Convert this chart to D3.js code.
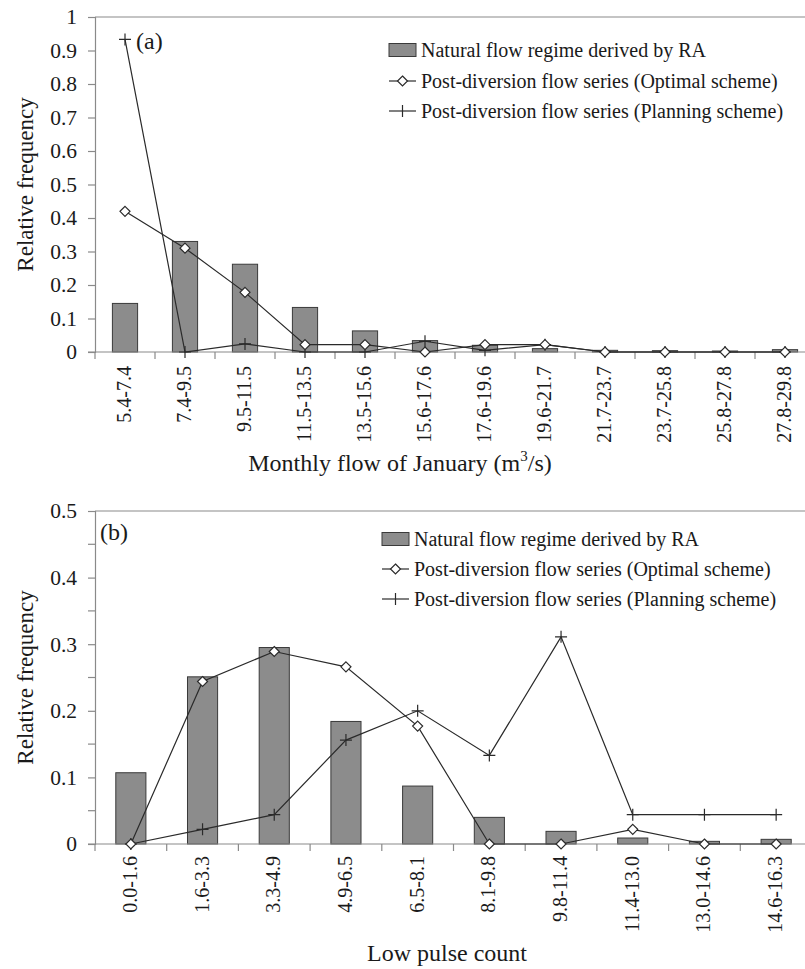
<!DOCTYPE html>
<html>
<head>
<meta charset="utf-8">
<script src="https://cdn.jsdelivr.net/npm/d3@7"></script>
<style>
  html, body { margin: 0; padding: 0; background: #fff; }
  svg { display: block; }
</style>
</head>
<body>
<svg id="chart" width="805" height="969"></svg>
<script>
/* Two stacked histograms: natural flow regime (bars) vs two post-diversion
   series (diamond line, plus line). Excel-style, serif type. */

// ---- panel (a): monthly flow of January
const catsA = ['5.4-7.4', '7.4-9.5', '9.5-11.5', '11.5-13.5', '13.5-15.6', '15.6-17.6',
  '17.6-19.6', '19.6-21.7', '21.7-23.7', '23.7-25.8', '25.8-27.8', '27.8-29.8'];
const naturalA  = [0.145, 0.33, 0.262, 0.133, 0.063, 0.034, 0.02, 0.01, 0.005, 0.004, 0.003, 0.007];
const optimalA  = [0.42, 0.31, 0.178, 0.022, 0.022, 0, 0.022, 0.022, 0, 0, 0, 0];
const planningA = [0.933, 0, 0.024, 0, 0, 0.032, 0.005, 0.022, 0, 0, 0, 0];
const yTicksA = [0, 0.1, 0.2, 0.3, 0.4, 0.5, 0.6, 0.7, 0.8, 0.9, 1];

// ---- panel (b): low pulse count
const catsB = ['0.0-1.6', '1.6-3.3', '3.3-4.9', '4.9-6.5', '6.5-8.1', '8.1-9.8',
  '9.8-11.4', '11.4-13.0', '13.0-14.6', '14.6-16.3'];
const naturalB  = [0.107, 0.251, 0.295, 0.184, 0.087, 0.04, 0.019, 0.009, 0.004, 0.007];
const optimalB  = [0, 0.244, 0.289, 0.266, 0.177, 0, 0, 0.022, 0, 0];
const planningB = [0, 0.022, 0.044, 0.156, 0.2, 0.133, 0.311, 0.044, 0.044, 0.044];
const yTicksB = [0, 0.1, 0.2, 0.3, 0.4, 0.5];
const yMinorB = [0.05, 0.15, 0.25, 0.35, 0.45];

const legendLabels = ['Natural flow regime derived by RA',
  'Post-diversion flow series (Optimal scheme)',
  'Post-diversion flow series (Planning scheme)'];

const svg = d3.select('#chart');
const serif = '"Liberation Serif", "Times New Roman", serif';
const ink = '#1a1a1a', axisCol = '#8a8a8a', lineCol = '#2a2a2a', barFill = '#8c8c8c';

function panel(o) {
  const g = svg.append('g');
  const x = d3.scaleBand().domain(o.cats).range([o.left, o.right]).paddingInner(0);
  const y = d3.scaleLinear().domain(o.yDomain).range([o.bottom, o.top]);
  const cx = d => x(d) + x.bandwidth() / 2;
  const bw = x.bandwidth() * 0.42;

  // top frame line
  g.append('line')
    .attr('x1', o.left).attr('x2', 805).attr('y1', o.top).attr('y2', o.top)
    .attr('stroke', axisCol).attr('stroke-width', 1.2);

  // bars
  g.selectAll('rect.bar').data(o.cats).join('rect')
    .attr('x', (d) => cx(d) - bw / 2)
    .attr('y', (d, i) => y(o.natural[i]))
    .attr('width', bw)
    .attr('height', (d, i) => y(0) - y(o.natural[i]))
    .attr('fill', barFill).attr('stroke', '#3a3a3a').attr('stroke-width', 1);

  // y axis
  const yAx = g.append('g').attr('transform', `translate(${o.left},0)`)
    .call(d3.axisLeft(y).tickValues(o.yTicks).tickSize(7).tickPadding(11)
      .tickFormat(d => d === 0 ? '0' : d === 1 ? '1' : d3.format('.1f')(d)));
  if (o.yMinor) {
    yAx.selectAll('line.minor').data(o.yMinor).join('line').attr('class', 'minor')
      .attr('x1', -7).attr('x2', 0).attr('y1', d => y(d)).attr('y2', d => y(d));
  }
  yAx.selectAll('text').attr('font-size', 21.5);

  // x axis with ticks on category boundaries
  const xAx = g.append('g').attr('transform', `translate(0,${y(0)})`);
  xAx.append('line').attr('x1', o.left - 7).attr('x2', 805).attr('y1', 0).attr('y2', 0);
  xAx.selectAll('line.tk').data(o.cats).join('line').attr('class', 'tk')
    .attr('x1', d => x(d)).attr('x2', d => x(d)).attr('y1', 0).attr('y2', 7);
  xAx.selectAll('text').data(o.cats).join('text')
    .attr('transform', d => `translate(${cx(d) + 6},${o.labelGap}) rotate(-90)`)
    .attr('text-anchor', 'end').attr('font-size', 20).text(d => d);

  [yAx, xAx].forEach(a => {
    a.selectAll('path.domain').attr('stroke', axisCol).attr('stroke-width', 1.2);
    a.selectAll('line').attr('stroke', axisCol).attr('stroke-width', 1.2);
    a.selectAll('text').attr('font-family', serif).attr('fill', ink);
  });

  // series lines
  const line = d3.line().x((d, i) => cx(o.cats[i])).y(d => y(d));
  [o.optimal, o.planning].forEach(s => {
    g.append('path').attr('d', line(s)).attr('fill', 'none')
      .attr('stroke', lineCol).attr('stroke-width', 1.2);
  });

  // plus markers
  g.selectAll('path.plus').data(o.planning).join('path')
    .attr('d', (d, i) => { const px = cx(o.cats[i]), py = y(d);
      return `M${px - 6},${py}H${px + 6}M${px},${py - 6}V${py + 6}`; })
    .attr('stroke', lineCol).attr('stroke-width', 1.2);

  // diamond markers
  g.selectAll('path.dia').data(o.optimal).join('path')
    .attr('d', (d, i) => { const px = cx(o.cats[i]), py = y(d);
      return `M${px},${py - 5}L${px + 5},${py}L${px},${py + 5}L${px - 5},${py}Z`; })
    .attr('fill', '#fff').attr('stroke', lineCol).attr('stroke-width', 1.2);

  // panel tag
  g.append('text').attr('x', o.tag[0]).attr('y', o.tag[1])
    .attr('font-family', serif).attr('font-size', 24).attr('fill', ink).text(o.tagText);

  // legend
  const L = o.legend;
  const lg = g.append('g');
  lg.append('rect').attr('x', L.x).attr('y', L.rows[0] - 6.5).attr('width', 27).attr('height', 13)
    .attr('fill', barFill).attr('stroke', '#3a3a3a').attr('stroke-width', 1);
  [1, 2].forEach(k => {
    const yy = L.rows[k], mx = L.x + 13.5;
    lg.append('line').attr('x1', L.x).attr('x2', L.x + 27).attr('y1', yy).attr('y2', yy)
      .attr('stroke', lineCol).attr('stroke-width', 1.2);
    if (k === 1) {
      lg.append('path').attr('d', `M${mx},${yy - 5}L${mx + 5},${yy}L${mx},${yy + 5}L${mx - 5},${yy}Z`)
        .attr('fill', '#fff').attr('stroke', lineCol).attr('stroke-width', 1.2);
    } else {
      lg.append('path').attr('d', `M${mx},${yy - 6}V${yy + 6}`)
        .attr('stroke', lineCol).attr('stroke-width', 1.2);
    }
  });
  lg.selectAll('text').data(legendLabels).join('text')
    .attr('x', L.x + 32).attr('y', (d, i) => L.rows[i] + 6.5)
    .attr('font-family', serif).attr('font-size', 20).attr('fill', ink).text(d => d);

  // axis titles
  g.append('text')
    .attr('transform', `translate(${o.yTitleX},${(o.top + o.bottom) / 2}) rotate(-90)`)
    .attr('text-anchor', 'middle').attr('font-family', serif).attr('font-size', 23)
    .attr('fill', ink).text('Relative frequency');
  const xt = g.append('text').attr('x', o.xTitle[0]).attr('y', o.xTitle[1])
    .attr('text-anchor', 'middle').attr('font-family', serif).attr('font-size', 24)
    .attr('fill', ink);
  o.xTitleParts.forEach(p => {
    const t = xt.append('tspan').text(p.t);
    if (p.sup) t.attr('font-size', 15).attr('dy', -10);
    if (p.down) t.attr('dy', 10);
  });
}

panel({
  cats: catsA, natural: naturalA, optimal: optimalA, planning: planningA,
  yDomain: [0, 1], yTicks: yTicksA,
  left: 95, right: 815, top: 17, bottom: 352, labelGap: 14,
  tag: [136, 49], tagText: '(a)',
  legend: { x: 389, rows: [50, 81, 111] },
  yTitleX: 33, xTitle: [400, 471],
  xTitleParts: [{ t: 'Monthly flow of January (m' }, { t: '3', sup: true }, { t: '/s)', down: true }]
});

panel({
  cats: catsB, natural: naturalB, optimal: optimalB, planning: planningB,
  yDomain: [0, 0.5], yTicks: yTicksB, yMinor: yMinorB,
  left: 95, right: 812, top: 511, bottom: 844, labelGap: 12,
  tag: [100, 540], tagText: '(b)',
  legend: { x: 382, rows: [539, 569, 599] },
  yTitleX: 33, xTitle: [447, 961],
  xTitleParts: [{ t: 'Low pulse count' }]
});
</script>
</body>
</html>
